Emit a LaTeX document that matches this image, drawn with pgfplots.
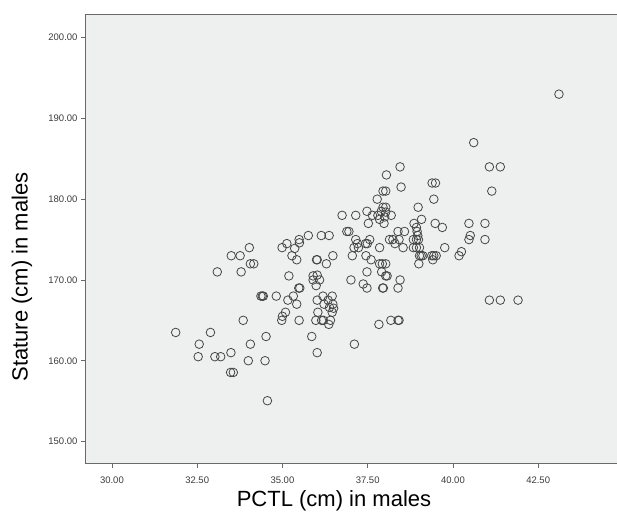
\documentclass[border=0pt]{standalone}
\usepackage{fontspec}
\setmainfont{Liberation Sans}
\usepackage{pgfplots}
\pgfplotsset{compat=1.18}

\definecolor{plotbg}{RGB}{238,240,239}
\definecolor{frame}{RGB}{105,105,105}
\definecolor{marker}{RGB}{70,70,70}
\definecolor{ticktext}{RGB}{60,60,60}

\pgfplotstableread{
x y
31.87 163.5
32.89 163.5
32.56 162.05
32.53 160.5
33.02 160.5
33.19 160.5
33.49 161.0
33.48 158.55
33.56 158.55
34.06 162.05
34.00 160.0
34.49 160.0
34.52 163.0
34.56 155.05
33.85 165.0
33.09 171.0
33.79 171.0
33.50 173.0
33.76 173.0
34.03 174.0
34.06 172.0
34.16 172.0
34.37 168.0
34.41 168.0
34.44 168.0
34.82 168.0
34.98 165.0
35.00 165.5
35.09 166.0
35.16 167.5
35.19 170.5
35.32 168.0
35.42 167.0
35.48 169.0
35.51 169.0
35.49 165.0
34.99 174.0
35.13 174.5
35.28 173.0
35.36 173.9
35.42 172.5
35.49 175.0
35.50 174.6
35.76 175.5
35.86 163.0
36.02 161.0
35.98 165.0
36.15 165.0
36.20 165.0
36.04 166.0
36.02 167.5
36.19 168.0
36.22 167.0
36.00 172.5
36.02 172.5
35.90 170.5
35.90 170.0
36.09 170.0
35.99 169.3
36.02 170.6
36.14 175.5
36.37 175.5
36.29 172.0
36.48 173.0
36.36 164.5
36.41 165.0
36.46 168.0
36.48 167.0
36.50 166.5
36.46 166.0
36.34 167.5
36.38 166.6
36.75 178.0
36.89 176.0
36.95 176.0
37.15 178.0
37.15 175.0
37.05 173.0
37.10 174.0
37.23 174.0
37.20 174.5
37.01 170.0
37.11 162.05
37.37 169.5
37.48 169.0
37.48 171.0
37.45 173.0
37.60 172.5
37.44 174.5
37.49 174.5
37.56 175.0
37.48 178.5
37.52 177.0
37.64 178.0
37.78 180.0
37.80 178.0
37.90 178.5
37.95 179.0
38.03 179.0
38.03 178.4
38.00 177.8
38.19 178.0
37.85 177.5
37.98 177.0
37.95 181.0
38.03 181.0
38.05 183.0
38.45 184.0
38.48 181.5
37.85 174.0
37.85 172.0
37.93 172.0
38.03 172.0
37.91 171.0
38.03 170.5
38.07 170.5
37.94 169.0
37.96 169.0
37.83 164.5
38.18 165.0
38.39 165.0
38.42 165.0
38.39 169.0
38.45 170.0
38.14 175.0
38.24 175.0
38.30 174.5
38.39 176.0
38.42 175.0
38.54 174.0
38.58 176.0
38.86 177.0
38.98 179.0
39.08 177.5
38.84 175.0
38.93 175.0
38.99 175.0
38.84 174.0
38.93 174.0
39.02 174.0
38.93 176.5
38.95 176.0
38.97 175.5
39.02 173.0
39.07 173.0
39.12 173.0
39.00 172.0
39.39 182.0
39.49 182.0
39.44 180.0
39.48 177.0
39.69 176.5
39.76 174.0
39.38 173.0
39.44 173.0
39.51 173.0
39.41 172.5
40.18 173.0
40.25 173.5
40.47 177.0
40.51 175.5
40.47 175.0
40.61 187.0
40.94 177.0
40.94 175.0
41.07 184.0
41.39 184.0
41.14 181.0
41.07 167.5
41.39 167.5
41.91 167.5
43.11 193.0
}\males

\begin{document}
\begin{tikzpicture}
\useasboundingbox (-86pt,-61pt) rectangle (531pt,463pt);
\begin{axis}[
    at={(0pt,0pt)}, anchor=south west,
    scale only axis,
    width=537.4pt,
    height=448pt,
    xmin=29.24, xmax=45.0,
    ymin=147.34, ymax=202.8,
    axis background/.style={fill=plotbg},
    axis line style={draw=frame, line width=1pt},
    xtick={30,32.5,35,37.5,40,42.5},
    ytick={150,160,170,180,190,200},
    xtick pos=bottom, ytick pos=left,
    tick align=outside,
    major tick length=5pt,
    tick style={draw=frame, line width=0.8pt},
    tick label style={font=\fontsize{9.5}{11}\selectfont, text=ticktext},
    /pgf/number format/assume math mode=true,
    xticklabel style={yshift=-5pt, /pgf/number format/.cd, fixed, fixed zerofill, precision=2},
    yticklabel style={/pgf/number format/.cd, fixed, fixed zerofill, precision=2},
    clip=false,
]
\addplot[only marks, mark=o, mark size=4.3pt, mark options={draw=marker, line width=0.8pt}] table {\males};
\end{axis}
\node[font=\fontsize{22}{24}\selectfont] at (248pt,-38pt) {PCTL (cm) in males};
\node[font=\fontsize{22}{24}\selectfont, rotate=90] at (-64pt,186pt) {Stature (cm) in males};
\end{tikzpicture}
\end{document}
